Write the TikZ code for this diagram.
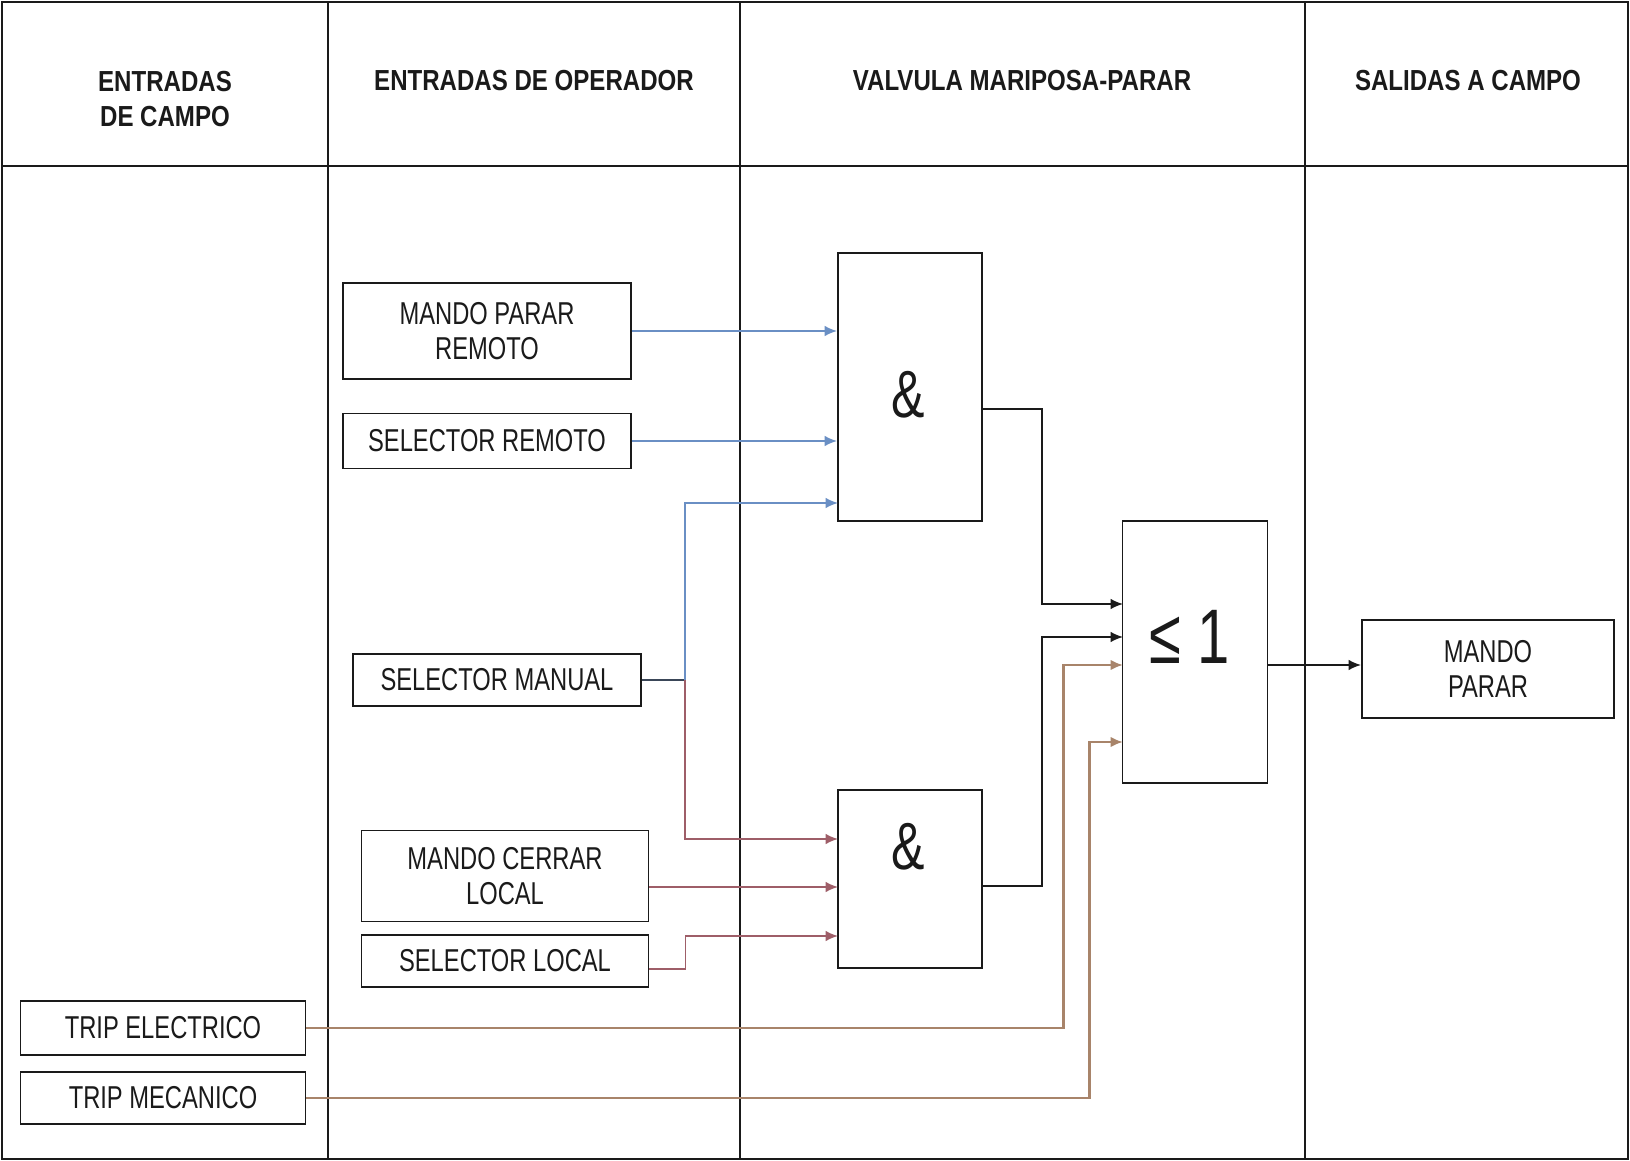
\documentclass[tikz,border=0pt]{standalone}
\usepackage{fontspec}
\setmainfont{Liberation Sans}[FakeStretch=0.75]
\newfontfamily\headfont{Liberation Sans}[FakeStretch=0.83]
\usepackage{xcolor}
\usepackage{tikz}
\usetikzlibrary{arrows.meta,positioning,calc}
\definecolor{cBlue}{HTML}{6A8FC4}
\definecolor{cRose}{HTML}{9E5E68}
\definecolor{cTan}{HTML}{A8846A}
\definecolor{cSlate}{HTML}{3A4658}
\definecolor{cInk}{HTML}{1A1A1A}
\newcommand\px{0.2mm}
\tikzset{
  frame/.style={draw=cInk,line width=1.3pt},
  blk/.style={draw=cInk,line width=1.1pt,align=center,inner sep=0pt,text=cInk,font=\fontsize{18}{19.5}\selectfont},
  gate/.style={draw=cInk,line width=1.1pt,inner sep=0pt},
  sym/.style={text=cInk,inner sep=0pt,font=\fontsize{#1}{#1}\selectfont},
  hdr/.style={font=\headfont\bfseries\fontsize{16.5}{20}\selectfont,align=center,text=cInk},
  wire/.style={-{Latex[length=7pt,width=6pt]},line width=1pt,color=#1},
  wire/.default=cInk,
}

\begin{document}
\begin{tikzpicture}[x=0.2mm,y=-0.2mm]
  \useasboundingbox (0,0) rectangle (1630,1161);
  % lanes
  \draw[frame] (2,2) rectangle (1628,1159);
  \draw[frame] (2,166) -- (1628,166);
  \foreach \xc in {328,740,1305} \draw[frame] (\xc,2) -- (\xc,1159);
  \node[hdr] (hcampo) at (165,99) {ENTRADAS\\DE CAMPO};
  \node[hdr] (hoper) at (534,81) {ENTRADAS DE OPERADOR};
  \node[hdr] (hvalv) at (1022,81) {VALVULA MARIPOSA-PARAR};
  \node[hdr] (hsal) at (1468,81) {SALIDAS A CAMPO};

  % inputs
  \node[blk,minimum width=288*\px,minimum height=96*\px] (mpr) at (487,331) {MANDO PARAR\\REMOTO};
  \node[blk,minimum width=288*\px,minimum height=55*\px] (srem) at (487,441) {SELECTOR REMOTO};
  \node[blk,minimum width=288*\px,minimum height=52*\px] (sman) at (497,680) {SELECTOR MANUAL};
  \node[blk,minimum width=287*\px,minimum height=91*\px] (mcl) at (505,876) {MANDO CERRAR\\LOCAL};
  \node[blk,minimum width=287*\px,minimum height=52*\px] (sloc) at (505,961) {SELECTOR LOCAL};
  \node[blk,minimum width=285*\px,minimum height=54*\px] (tel) at (163,1028) {TRIP ELECTRICO};
  \node[blk,minimum width=285*\px,minimum height=52*\px] (tme) at (163,1098) {TRIP MECANICO};

  % gates
  \node[gate,minimum width=144*\px,minimum height=268*\px] (and1) at (910,387) {};
  \node[sym=38] (amp1) at (908,395) {\&};
  \node[gate,minimum width=144*\px,minimum height=178*\px] (and2) at (910,879) {};
  \node[sym=38] (amp2) at (908,847) {\&};
  \node[gate,minimum width=145*\px,minimum height=262*\px] (or) at (1195,652) {};
  \node[sym=44] (ge) at (1190,637) {≤ 1};

  % output
  \node[blk,minimum width=252*\px,minimum height=98*\px] (mp) at (1488,669) {MANDO\\PARAR};

  % pins
  \coordinate (a1c) at (838,503);
  \coordinate (a1o) at (982,409);
  \coordinate (a2a) at (838,839);
  \coordinate (a2b) at (838,887);
  \coordinate (a2c) at (838,936);
  \coordinate (a2o) at (982,886);
  \coordinate (o1) at (1123,604);
  \coordinate (o2) at (1123,637);
  \coordinate (o3) at (1123,665);
  \coordinate (o4) at (1123,742);
  \coordinate (oo) at (1268,665);
  \coordinate (jm) at (685,680);

  % wires
  \draw[wire=cBlue] (mpr.east) -- (mpr.east -| and1.west);
  \draw[wire=cBlue] (srem.east) -- (srem.east -| and1.west);
  \draw[cSlate,line width=1pt] (sman.east) -- (jm);
  \draw[wire=cBlue] (jm) |- (a1c);
  \draw[wire=cRose] (jm) |- (a2a);
  \draw[wire=cRose] (mcl.east |- a2b) -- (a2b);
  \draw[wire=cRose] ([yshift=-1.6mm]sloc.east) -- ++(36,0) |- (a2c);
  \draw[wire] (a1o) -- ++(60,0) |- (o1);
  \draw[wire] (a2o) -- ++(60,0) |- (o2);
  \draw[wire=cTan,line width=1.5pt] (tel.east) -- ++(757,0) |- (o3);
  \draw[wire=cTan,line width=1.5pt] (tme.east) -- ++(783,0) |- (o4);
  \draw[wire] (oo) -- (oo -| mp.west);
\end{tikzpicture}
\end{document}
